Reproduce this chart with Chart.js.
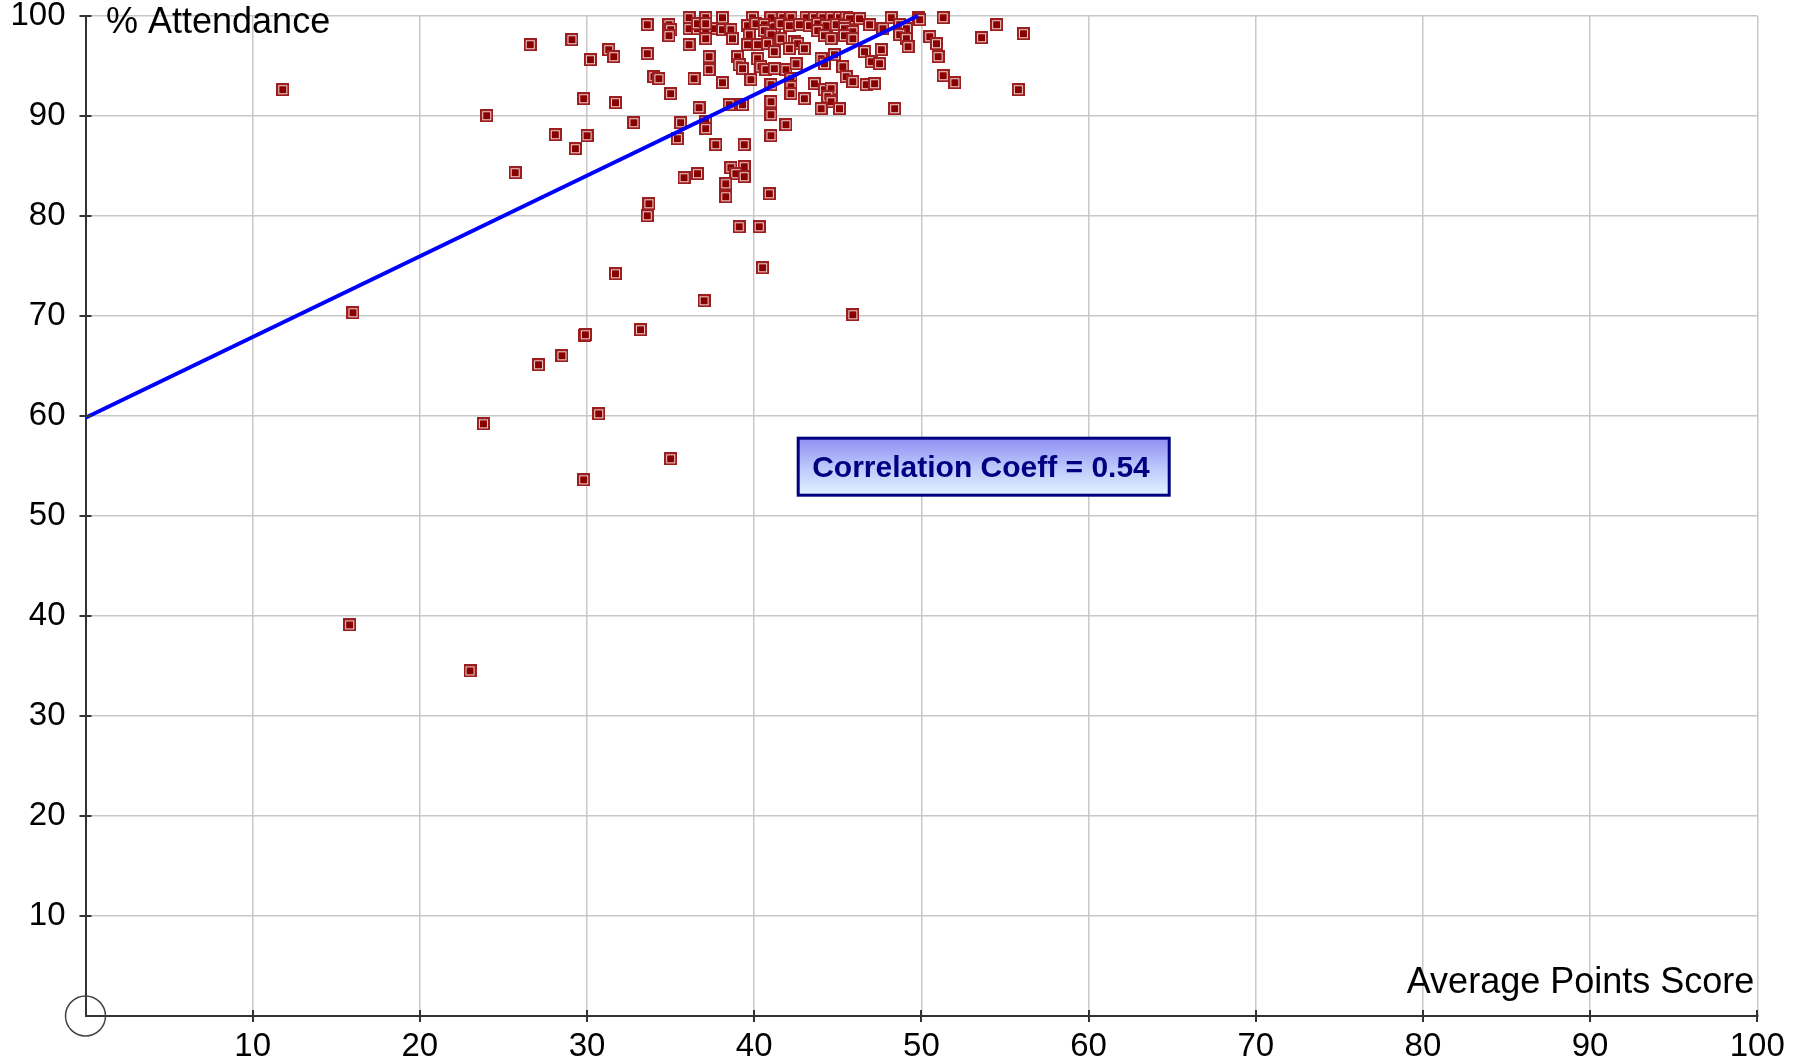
<!DOCTYPE html>
<html>
<head>
<meta charset="utf-8">
<script src="https://cdn.jsdelivr.net/npm/chart.js@4/dist/chart.umd.min.js"></script>
<style>
  html, body { margin: 0; padding: 0; background: #ffffff; overflow: hidden; }
  canvas { display: block; }
</style>
</head>
<body>
<canvas id="c" width="1802" height="1064"></canvas>
<script>
// ---- Data ----
const xTickValues = [0, 10, 20, 30, 40, 50, 60, 70, 80, 90, 100];
const yTickValues = [0, 10, 20, 30, 40, 50, 60, 70, 80, 90, 100];

const scoreX = [
  11.8, 16.0, 15.8, 23.0, 24.0, 25.7, 26.6, 28.1, 29.1, 29.3,
  29.8, 30.0, 30.2, 31.3, 31.6, 31.7, 32.8, 33.6, 33.6, 34.0,
  34.3, 34.9, 35.0, 34.9, 35.0, 35.6, 35.4, 36.1, 37.1, 36.1,
  36.6, 37.1, 37.6, 36.6, 37.1, 37.1, 36.1, 38.1, 38.1, 37.3,
  37.3, 38.1, 36.4, 36.7, 37.1, 37.1, 37.7, 39.4, 38.6, 39.4,
  38.9, 39.4, 36.6, 35.8, 38.3, 38.3, 40.9, 33.7, 33.6, 39.1,
  40.3, 31.7, 40.5, 37.0, 45.9, 33.2, 29.85, 29.9, 28.5, 27.1,
  30.7, 23.8, 35.0, 29.8, 38.6, 38.7, 39.9, 41.0, 41.7, 42.2,
  43.1, 43.6, 44.1, 44.6, 45.1, 45.5, 45.7, 46.3, 39.6, 40.1,
  40.6, 41.2, 41.6, 42.1, 42.7, 43.3, 43.8, 44.3, 44.9, 45.4,
  39.7, 40.6, 41.0, 41.6, 42.4, 42.6, 43.8, 44.2, 44.6, 39.6,
  40.2, 40.8, 41.2, 42.1, 43.0, 39.0, 39.1, 39.3, 40.2, 40.4,
  40.7, 39.8, 41.2, 41.9, 42.2, 42.2, 42.2, 41.0, 42.5, 43.6,
  44.2, 44.6, 44.4, 44.0, 44.2, 44.8, 45.3, 45.5, 44.6, 44.0,
  45.1, 38.5, 39.3, 41.0, 41.0, 43.0, 41.9, 41.0, 46.9, 47.7,
  45.4, 45.9, 45.4, 45.9, 48.2, 49.8, 48.7, 49.1, 48.7, 49.1,
  49.2, 49.9, 51.3, 50.5, 50.9, 51.0, 46.6, 47.6, 47.0, 47.5,
  45.9, 46.7, 47.2, 51.3, 52.0, 48.4, 53.6, 54.5, 56.1, 55.8
];
const attendY = [
  92.6, 70.3, 39.1, 34.5, 90.0, 84.3, 97.1, 88.1, 97.6, 86.7,
  91.7, 88.0, 95.6, 96.6, 95.9, 91.3, 89.3, 99.1, 96.2, 93.9,
  93.7, 99.1, 98.6, 98.0, 92.2, 89.3, 87.7, 99.8, 99.8, 98.7,
  98.7, 98.7, 98.7, 99.2, 99.2, 97.7, 97.1, 99.8, 98.6, 95.9,
  94.6, 93.3, 93.7, 90.8, 89.4, 88.7, 87.1, 87.1, 84.8, 84.9,
  84.2, 83.9, 84.2, 83.8, 83.2, 81.9, 82.2, 81.2, 80.0, 78.9,
  78.9, 74.2, 74.8, 71.5, 70.1, 68.6, 68.0, 68.1, 66.0, 65.1,
  60.2, 59.2, 55.7, 53.6, 98.6, 97.7, 99.8, 99.8, 99.8, 99.8,
  99.8, 99.8, 99.8, 99.8, 99.8, 99.8, 99.7, 99.7, 99.0, 99.2,
  99.1, 98.9, 99.2, 99.0, 99.1, 99.0, 99.2, 99.0, 99.1, 99.0,
  98.1, 98.5, 98.1, 97.7, 97.4, 97.2, 98.5, 98.0, 97.7, 97.1,
  97.1, 97.2, 96.4, 96.7, 96.7, 95.9, 95.1, 94.7, 95.7, 94.9,
  94.6, 93.6, 94.7, 94.6, 93.7, 92.9, 92.2, 93.1, 95.2, 93.2,
  92.6, 92.7, 91.9, 95.7, 95.2, 96.1, 94.9, 93.9, 91.4, 90.7,
  90.7, 91.1, 91.1, 91.4, 90.1, 91.7, 89.1, 88.0, 99.1, 98.7,
  98.7, 98.4, 98.0, 97.7, 99.8, 99.8, 99.1, 98.7, 98.1, 97.7,
  96.9, 99.6, 99.8, 97.9, 97.2, 95.9, 96.4, 96.6, 95.4, 95.2,
  93.4, 93.1, 93.2, 94.0, 93.3, 90.7, 97.8, 99.1, 98.2, 92.6
];

const trendX = [0, 49.8];
const trendY = [59.8, 100];

const xTitle = 'Average Points Score';
const yTitle = '% Attendance';
const corrLabel = 'Correlation Coeff = 0.54';

// ---- Marker image (square with ring, dark red) ----
const markerImg = (() => {
  const c = document.createElement('canvas');
  c.width = 13; c.height = 13;
  const g = c.getContext('2d');
  g.fillStyle = '#9c1e1e'; g.fillRect(0, 0, 13, 13);
  g.fillStyle = '#f0d2d2'; g.fillRect(2, 2, 9, 9);
  g.fillStyle = '#880000'; g.fillRect(3, 3, 7, 7);
  return c;
})();

const FONT = '"Liberation Sans", Arial, sans-serif';

const overlay = {
  id: 'overlay',
  afterDraw(chart) {
    const { ctx, scales: { x, y } } = chart;
    const x0 = x.getPixelForValue(0), y0 = y.getPixelForValue(0);
    ctx.save();
    // tick marks crossing the axes
    ctx.strokeStyle = '#333333';
    ctx.lineWidth = 2;
    xTickValues.forEach(v => {
      if (v === 0) return;
      const px = Math.round(x.getPixelForValue(v));
      ctx.beginPath(); ctx.moveTo(px, y0 - 6); ctx.lineTo(px, y0 + 6); ctx.stroke();
    });
    yTickValues.forEach(v => {
      if (v === 0) return;
      const py = Math.round(y.getPixelForValue(v));
      ctx.beginPath(); ctx.moveTo(x0 - 6, py); ctx.lineTo(x0 + 6, py); ctx.stroke();
    });
    // origin circle
    ctx.lineWidth = 1.5;
    ctx.strokeStyle = '#444444';
    ctx.beginPath(); ctx.arc(x0, y0, 20, 0, Math.PI * 2); ctx.stroke();
    // axis titles
    ctx.fillStyle = '#000000';
    ctx.font = '36px ' + FONT;
    ctx.textBaseline = 'alphabetic';
    ctx.textAlign = 'left';
    ctx.fillText(yTitle, x0 + 20.5, 33);
    ctx.textAlign = 'right';
    ctx.fillText(xTitle, x.getPixelForValue(100) - 3, 993);
    // correlation box
    const bx = 798.2, by = 438.2, bw = 371, bh = 57;
    const grad = ctx.createLinearGradient(0, by, 0, by + bh);
    grad.addColorStop(0, '#8e8ef3');
    grad.addColorStop(0.5, '#bcc6fb');
    grad.addColorStop(1, '#e0f4ff');
    ctx.fillStyle = grad;
    ctx.fillRect(bx, by, bw, bh);
    ctx.strokeStyle = '#000080';
    ctx.lineWidth = 3;
    ctx.strokeRect(bx, by, bw, bh);
    ctx.fillStyle = '#000080';
    ctx.font = 'bold 30px ' + FONT;
    ctx.textAlign = 'center';
    ctx.fillText(corrLabel, 981, 477);
    ctx.restore();
  }
};

const points = scoreX.map((v, i) => ({ x: v, y: attendY[i] }));
const trend = trendX.map((v, i) => ({ x: v, y: trendY[i] }));

new Chart(document.getElementById('c').getContext('2d'), {
  type: 'scatter',
  data: {
    datasets: [
      {
        type: 'line',
        data: trend,
        borderColor: '#0000ff',
        borderWidth: 4,
        pointRadius: 0,
        fill: false,
        tension: 0,
        order: 0,
        clip: false
      },
      {
        data: points,
        pointStyle: markerImg,
        pointRadius: 6.5,
        order: 1,
        clip: false
      }
    ]
  },
  options: {
    responsive: false,
    animation: false,
    devicePixelRatio: 1,
    events: [],
    layout: { padding: { top: 15.7, right: 44.7, left: 0, bottom: 0 } },
    plugins: { legend: { display: false }, tooltip: { enabled: false } },
    scales: {
      x: {
        type: 'linear', position: 'bottom', min: 0, max: 100,
        afterBuildTicks(s) { s.ticks = xTickValues.map(v => ({ value: v })); },
        ticks: {
          color: '#000000', padding: 11, maxRotation: 0, autoSkip: false,
          font: { family: FONT, size: 33, lineHeight: 1.2 },
          callback: v => (v === 0 ? '' : String(v))
        },
        grid: { color: '#c8c8c8', lineWidth: 1.5, drawTicks: false },
        border: { color: '#333333', width: 2 },
        afterFit(s) { s.height = 48; s.paddingLeft = 0; s.paddingRight = 0; }
      },
      y: {
        type: 'linear', position: 'left', min: 0, max: 100,
        afterBuildTicks(s) { s.ticks = yTickValues.map(v => ({ value: v })); },
        ticks: {
          color: '#000000', padding: 20,
          font: { family: FONT, size: 33, lineHeight: 1.2 },
          callback: v => (v === 0 ? '' : String(v))
        },
        grid: { color: '#c8c8c8', lineWidth: 1.5, drawTicks: false },
        border: { color: '#333333', width: 2 },
        afterFit(s) { s.width = 85.5; s.paddingTop = 0; s.paddingBottom = 0; }
      }
    }
  },
  plugins: [overlay]
});
</script>
</body>
</html>
